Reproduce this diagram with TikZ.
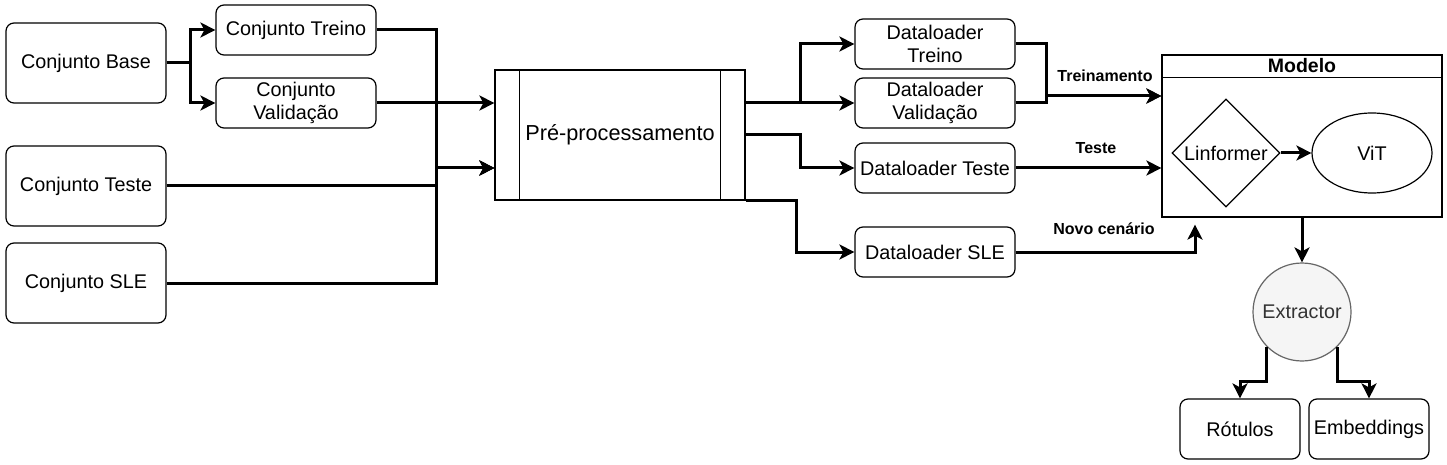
\documentclass[tikz,border=0pt]{standalone}
\usepackage{fontspec}
\setmainfont{Liberation Sans}
\usetikzlibrary{arrows.meta,shapes.geometric,calc}
\definecolor{extfill}{HTML}{F5F5F5}
\definecolor{extdraw}{HTML}{666666}
\definecolor{exttext}{HTML}{333333}
\begin{document}
\begin{tikzpicture}[x=1pt,y=-1pt,
  box/.style={draw, line width=1.2pt, rounded corners=8pt, minimum width=160pt, minimum height=#1, inner sep=0pt, align=center, font=\fontsize{19.8}{23}\selectfont},
  box/.default=50pt,
  smallbox/.style={draw, line width=1.2pt, rounded corners=8pt, minimum width=120pt, minimum height=60pt, inner sep=0pt, align=center, font=\fontsize{19.8}{23}\selectfont},
  conn/.style={line width=3pt, -{Stealth[length=15pt,width=15pt,inset=4pt]}},
  lbl/.style={font=\bfseries\fontsize{16}{19}\selectfont, inner sep=0pt},
  shapetext/.style={line width=1.2pt, inner sep=0pt, font=\fontsize{19.8}{23}\selectfont}]
\useasboundingbox (0,0) rectangle (1447,465);

% left column
\node[box=80pt] (base) at (86,63) {Conjunto Base};
\node[box] (treino) at (296,30) {Conjunto Treino};
\node[box] (valid) at (296,103) {Conjunto\\Validação};
\node[box=80pt] (teste) at (86,186) {Conjunto Teste};
\node[box=80pt] (sle) at (86,283) {Conjunto SLE};

% pre-processing
\node[draw, line width=1.2pt, minimum width=250pt, minimum height=130pt, inner sep=0pt, font=\fontsize{21.7}{25}\selectfont] (pp) at (620,135) {Pré-processamento};
\draw[line width=1.2pt] ([xshift=25pt]pp.north west) -- ([xshift=25pt]pp.south west);
\draw[line width=1.2pt] ([xshift=-25pt]pp.north east) -- ([xshift=-25pt]pp.south east);

% dataloaders
\node[box] (dltr) at (935,44) {Dataloader\\Treino};
\node[box] (dlva) at (935,103) {Dataloader\\Validação};
\node[box] (dlte) at (935,168) {Dataloader Teste};
\node[box] (dlsle) at (935,252) {Dataloader SLE};

% model
\node[draw, line width=1.2pt, minimum width=280pt, minimum height=162pt, inner sep=0pt] (modelo) at (1302,136) {};
\draw[line width=1.2pt] ($(modelo.north west)+(0,23)$) -- ($(modelo.north east)+(0,23)$);
\node[font=\bfseries\fontsize{19.5}{22}\selectfont, inner sep=0pt] (modtitle) at ($(modelo.north)+(0,11.5)$) {Modelo};
\node[draw, diamond, aspect=1, minimum width=108pt, minimum height=108pt, shapetext] (lin) at (1226,153) {\makebox[0pt]{Linformer}};
\node[draw, ellipse, minimum width=120pt, minimum height=80pt, shapetext] (vit) at (1372,153) {ViT};

% extractor and outputs
\node[draw=extdraw, fill=extfill, text=exttext, circle, minimum size=98pt, shapetext] (ext) at (1302,312) {Extractor};
\node[smallbox] (rot) at (1240,429) {Rótulos};
\node[smallbox] (emb) at (1369,429) {Embeddings};

% connectors left
\draw[conn] (base.east) -- ++(24,0) |- (treino.west);
\draw[conn] (base.east) -- ++(24,0) |- (valid.west);
\draw[conn] (treino.east) -- ++(60,0) |- ($(pp.west)+(0,33)$);
\draw[conn] (valid.east) -- (valid.east -| pp.west);
\draw[conn] (teste.east) -- ++(270,0) |- ($(pp.west)+(0,33)$);
\draw[conn] (sle.east) -- ++(270,0) |- ($(pp.west)+(0,33)$);

% connectors middle
\draw[conn] ($(pp.east)+(0,-32)$) -- ++(55,0) |- (dltr.west);
\draw[conn] ($(pp.east)+(0,-32)$) -- (dlva.west);
\draw[conn] (pp.east) -- ++(55,0) |- (dlte.west);
\draw[conn] (pp.south east) -- ++(51,0) |- (dlsle.west);

% connectors right
\draw[conn] (dltr.east) -- ++(31,0) |- ($(modelo.west)+(0,-40)$);
\draw[conn] (dlva.east) -- ++(31,0) |- ($(modelo.west)+(0,-40)$);
\draw[conn] (dlte.east) -- (dlte.east -| modelo.west);
\draw[conn, shorten >=7pt] (dlsle.east) -| ([xshift=-107pt]modelo.south);
\draw[conn] (lin.east) -- (vit.west);
\draw[conn] (modelo.south) -- (ext.north);
\draw[conn] (ext.-135) -- ++(0,34) -| (rot.north);
\draw[conn] (ext.-45) -- ++(0,34) -| (emb.north);

% edge labels
\node[lbl] (ltrein) at (1105,76) {Treinamento};
\node[lbl] (lteste) at (1096,148) {Teste};
\node[lbl] (lnovo) at (1104,229) {Novo cenário};
\end{tikzpicture}
\end{document}
